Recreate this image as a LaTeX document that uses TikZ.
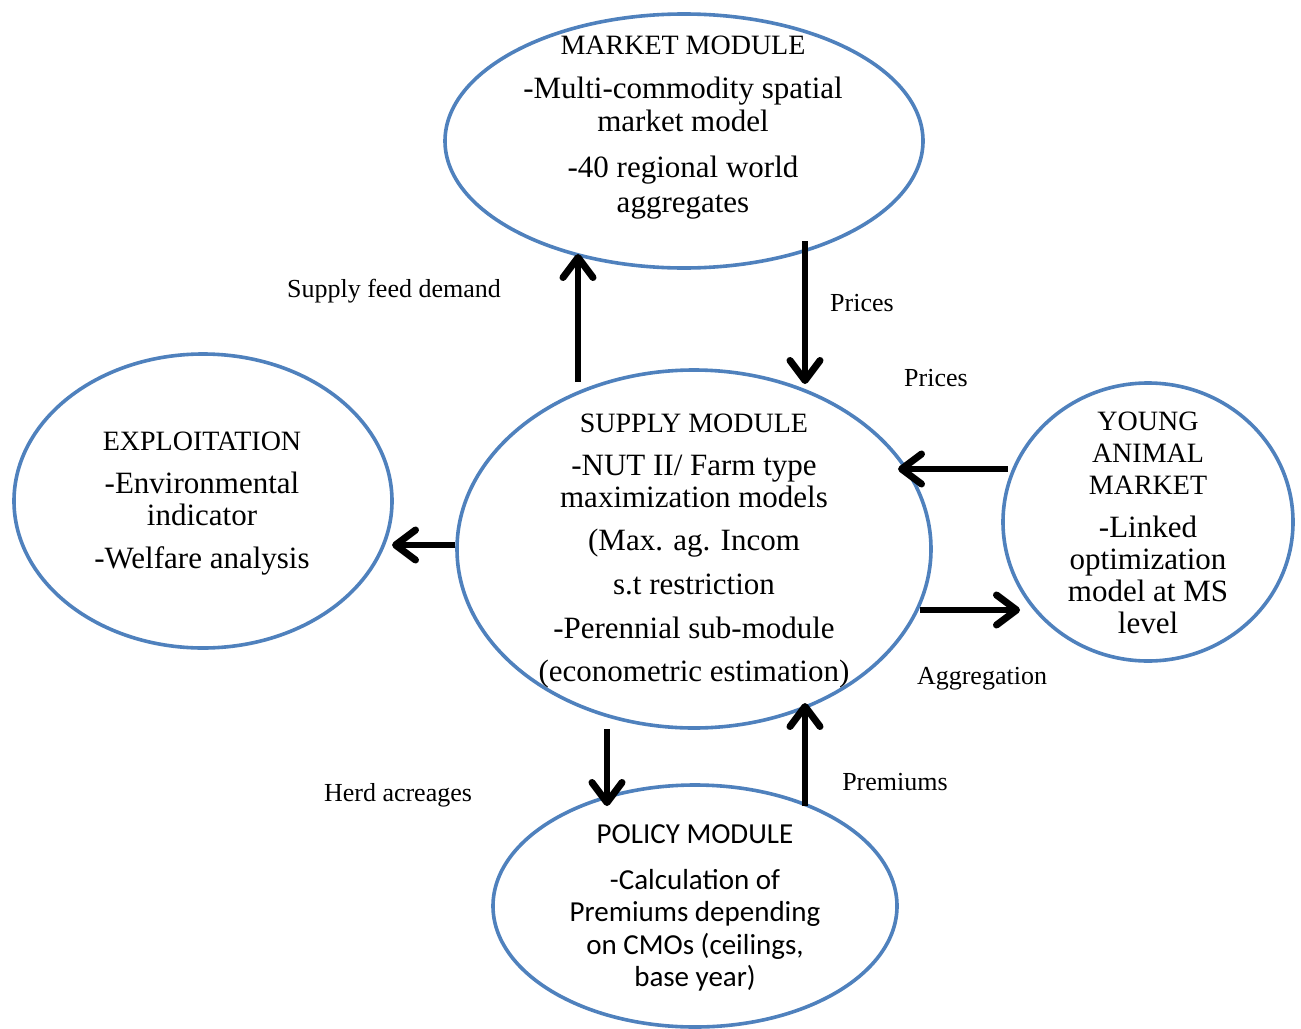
\documentclass[tikz,border=0pt]{standalone}
\usepackage{fontspec}
\setmainfont{Liberation Serif}
\newfontfamily\calibfont{Carlito}
\usetikzlibrary{shapes.geometric,arrows.meta}
\definecolor{ellblue}{RGB}{79,129,189}
\newcommand\mytitlefont{\fontsize{28}{32}\selectfont}
\begin{document}
\begin{tikzpicture}[x=1pt,y=-1pt,
  ell/.style={draw=ellblue, line width=3.6pt, ellipse, inner sep=0pt},
  body/.style={align=center, inner sep=0pt, font=\fontsize{31}{32}\selectfont},
  pbody/.style={align=center, inner sep=0pt, font=\calibfont\fontsize{29}{32.5}\selectfont},
  lbl/.style={inner sep=0pt, font=\fontsize{26}{30}\selectfont},
  arr/.style={line width=6pt, -{Straight Barb[length=20pt,width=30pt,line width=7pt,round]}}]
\useasboundingbox (0,0) rectangle (1301,1028);
\fill[white] (0,0) rectangle (1301,1028);

% ellipses
\node[ell, minimum width=478pt, minimum height=254pt] (market) at (684,141) {};
\node[ell, minimum width=474pt, minimum height=358pt] (supply) at (694,549) {};
\node[ell, minimum width=378pt, minimum height=294pt] (exploit) at (203,501) {};
\node[ell, minimum width=290pt, minimum height=278pt] (young) at (1148,522) {};
\node[ell, minimum width=404pt, minimum height=242pt] (policy) at (695,906) {};

% texts
\node[body] (market-t) at (683,128) {{\mytitlefont MARKET MODULE}\\[12pt]
  -Multi-commodity spatial\\[1pt] market model\\[14pt] -40 regional world\\[3pt] aggregates};
\node[body] (supply-t) at (694,551) {{\mytitlefont SUPPLY MODULE}\\[11pt]
  -NUT II/ Farm type\\ maximization models\\[11pt] (Max. ag. Incom\\[12pt]
  s.t restriction\\[12pt] -Perennial sub-module\\[11pt] (econometric estimation)};
\node[body] (exploit-t) at (202,504) {{\mytitlefont EXPLOITATION}\\[11pt]
  -Environmental\\ indicator\\[11pt] -Welfare analysis};
\node[body] (young-t) at (1148,523) {{\mytitlefont YOUNG}\\ {\mytitlefont ANIMAL}\\
  {\mytitlefont MARKET}\\[11pt] -Linked\\ optimization\\ model at MS\\ level};
\node[pbody] (policy-t) at (695,908) {POLICY MODULE\\[13pt] -Calculation of\\
  Premiums depending\\ on CMOs (ceilings,\\ base year)};

% connector end points
\coordinate (sup-n1) at (578,382);
\coordinate (mk-s1) at (578,254);
\coordinate (mk-s2) at (805,241);
\coordinate (sup-n2) at (805,384);
\coordinate (yg-w1) at (1008,469);
\coordinate (sup-e1) at (898,469);
\coordinate (sup-e2) at (920,610);
\coordinate (yg-w2) at (1020,610);
\coordinate (sup-w) at (455,545);
\coordinate (ex-e) at (392,545);
\coordinate (sup-s1) at (607,729);
\coordinate (pol-n1) at (607,806);
\coordinate (pol-n2) at (805,806);
\coordinate (sup-s2) at (805,703);

\draw[arr] (sup-n1) -- (mk-s1);
\draw[arr] (mk-s2) -- (sup-n2);
\draw[arr] (yg-w1) -- (sup-e1);
\draw[arr] (sup-e2) -- (yg-w2);
\draw[arr] (sup-w) -- (ex-e);
\draw[arr] (sup-s1) -- (pol-n1);
\draw[arr] (pol-n2) -- (sup-s2);

% labels
\node[lbl] (l-sfd) at (394,291) {Supply feed demand};
\node[lbl] (l-p1) at (862,303) {Prices};
\node[lbl] (l-p2) at (936,378) {Prices};
\node[lbl] (l-agg) at (982,679) {Aggregation};
\node[lbl] (l-herd) at (398,795) {Herd acreages};
\node[lbl] (l-prem) at (895,782) {Premiums};
\end{tikzpicture}
\end{document}
